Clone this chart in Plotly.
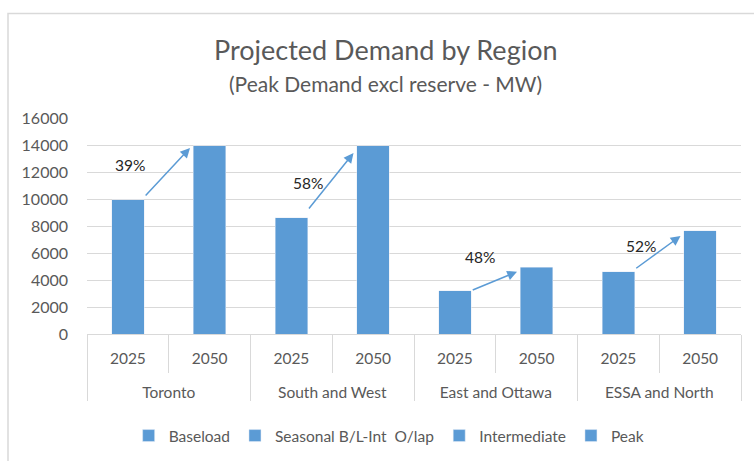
import plotly.graph_objects as go

# ---- data ----
regions = ["Toronto", "South and West", "East and Ottawa", "ESSA and North"]
years = ["2025", "2050"]
demand_2025 = [9950, 8600, 3200, 4600]
demand_2050 = [13950, 13950, 4950, 7650]
growth_labels = ["39%", "58%", "48%", "52%"]
series_names = ["Baseload", "Seasonal B/L-Int\u00a0 O/lap", "Intermediate", "Peak"]

BLUE = "#5B9BD5"
GRID = "#D9D9D9"
TXT = "#595959"
FONT = "Lato"

outer, inner, vals = [], [], []
for r, a, b in zip(regions, demand_2025, demand_2050):
    outer += [r, r]
    # extra blank line spaces the two label rows apart
    inner += [y + '<br><span style="font-size:35px">\u00a0</span>' for y in years]
    vals += [a, b]

fig = go.Figure()
for name in series_names:
    if name == "Peak":
        fig.add_trace(go.Bar(x=[outer, inner], y=vals, name=name, marker_color=BLUE))
    else:
        fig.add_trace(go.Bar(x=[outer, inner], y=[None] * len(vals), name=name, marker_color=BLUE))

# arrows & growth labels (offsets relative to the bars)
tail_dy = [200, 585, 10, 190]
head_dy = [-170, -550, -335, -390]
label_pos = [(0.03, 12500), (2.2, 11170), (4.31, 5720), (6.28, 6530)]
annotations = []
for i, (a, b) in enumerate(zip(demand_2025, demand_2050)):
    base = 2 * i
    annotations.append(dict(
        x=base + 0.76, y=b + head_dy[i], ax=base + 0.2, ay=a + tail_dy[i],
        xref="x", yref="y", axref="x", ayref="y", text="", showarrow=True,
        arrowhead=2, arrowsize=1.3, arrowwidth=1.5, arrowcolor=BLUE))
    annotations.append(dict(
        x=label_pos[i][0], y=label_pos[i][1], xref="x", yref="y", text=growth_labels[i],
        showarrow=False, font=dict(family=FONT, size=15.5, color="#262626")))

annotations.append(dict(text="Projected Demand by Region", xref="paper", yref="paper",
                        x=(386 - 87) / 654, y=(334 - 49) / 216.3, xanchor="center", yanchor="middle",
                        showarrow=False, font=dict(family=FONT, size=27, color=TXT)))
annotations.append(dict(text="(Peak Demand excl reserve - MW)", xref="paper", yref="paper",
                        x=(385 - 87) / 654, y=(334 - 83) / 216.3, xanchor="center", yanchor="middle",
                        showarrow=False, font=dict(family=FONT, size=21, color=TXT)))

fig.update_layout(
    width=754, height=461,
    margin=dict(l=87, r=13, t=118, b=127),
    paper_bgcolor="white", plot_bgcolor="white",
    barmode="stack", bargap=0.6,
    font=dict(family=FONT, size=15.5, color=TXT),
    annotations=annotations,
    showlegend=True,
    legend=dict(orientation="h", x=0.462, xanchor="center", yref="container",
                y=1 - 436 / 461, yanchor="middle",
                font=dict(family=FONT, size=15.5, color=TXT), itemwidth=30, traceorder="normal"),
    shapes=[dict(type="rect", xref="paper", yref="paper",
                 x0=(8 - 87) / 654, x1=(770 - 87) / 654,
                 y0=(334 - 480) / 216.3, y1=(334 - 13) / 216.3,
                 line=dict(color=GRID, width=1.5), fillcolor="rgba(0,0,0,0)", layer="below")],
)

fig.update_yaxes(range=[0, 16000], dtick=2000, tickformat="d", showgrid=True, gridcolor=GRID,
                 gridwidth=1, zeroline=False, showline=False, ticks="", ticklabelstandoff=18,
                 tickfont=dict(family=FONT, size=16, color=TXT), automargin=False)
fig.update_xaxes(type="multicategory", showline=True, linecolor=GRID, linewidth=1,
                 ticks="outside", tickson="boundaries", ticklen=38, tickcolor=GRID,
                 ticklabelstandoff=10, automargin=False,
                 showdividers=True, dividercolor=GRID, dividerwidth=1,
                 tickfont=dict(family=FONT, size=15.5, color=TXT), showgrid=False)

fig.write_html("out.html", config={"displayModeBar": False},
               post_script="document.body.style.margin='0';document.body.style.overflow='hidden';")
